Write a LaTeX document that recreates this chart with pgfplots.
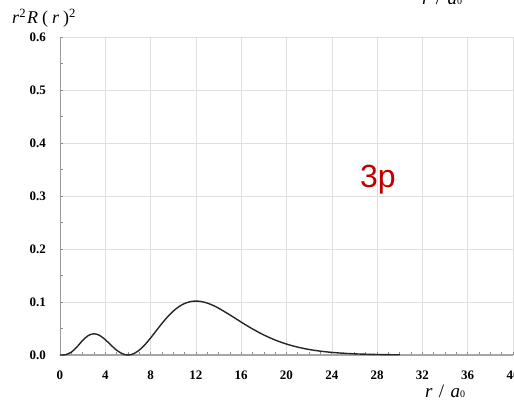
\documentclass[border=0pt]{standalone}
\usepackage{fontspec}
\setmainfont{Liberation Serif}
\newfontfamily\arial{Liberation Sans}
\usepackage{pgfplots}
\pgfplotsset{compat=1.18}
\definecolor{axred}{HTML}{C00000}
\begin{document}
\begin{tikzpicture}[x=1pt,y=1pt]
\begin{axis}[
  at={(0,0)}, anchor=south west,
  scale only axis, width=453pt, height=318pt,
  xmin=0, xmax=40, ymin=0, ymax=0.6,
  xtick={0,4,...,40}, ytick={0,0.1,...,0.6},
  minor x tick num=3, minor y tick num=1,
  axis x line*=bottom, axis y line*=left,
  x axis line style={draw=gray!70, line width=1.3pt, -},
  y axis line style={draw=gray!80, line width=0.8pt, -},
  tick align=inside,
  major tick length=3pt, minor tick length=3pt,
  tick style={draw=gray!90, line width=0.7pt},
  grid=major,
  major grid style={draw=gray!25, line width=0.6pt},
  /pgf/number format/assume math mode=true,
  tick label style={font=\fontsize{13}{15}\selectfont\bfseries, inner sep=0pt},
  yticklabel style={/pgf/number format/fixed, /pgf/number format/precision=1, /pgf/number format/fixed zerofill, xshift=-14pt},
  xticklabel style={yshift=-16pt},
  clip=false,
]
\addplot[smooth, draw=black!85, line width=1.4pt] coordinates {
(0,0) (0.25,0.0000444) (0.5,0.000551) (1,0.005217) (1.5,0.015328) (2,0.027427)
(2.5,0.036734) (3,0.040099) (3.5,0.036966) (4,0.028919) (4.5,0.018670)
(5,0.009062) (5.5,0.002377) (5.75,0.000601) (6,0) (6.25,0.000601) (6.5,0.002380)
(7,0.009177) (7.5,0.019496) (8,0.032150) (8.5,0.045871) (9,0.059491)
(9.5,0.072027) (10,0.082759) (10.5,0.091227) (11,0.097204) (11.5,0.100675)
(12,0.101782) (12.5,0.100774) (13,0.097967) (13.5,0.093715) (14,0.088365)
(15,0.075667) (16,0.062088) (17,0.049156) (18,0.037750) (19,0.028238)
(20,0.020644) (21,0.014789) (22,0.010406) (23,0.007205) (24,0.004917)
(25,0.003312) (26,0.002204) (27,0.001451) (28,0.000945) (29,0.000611)
(30,0.000391)
};
\end{axis}
\node[anchor=base west, inner sep=0pt, font=\fontsize{18}{20}\selectfont] at (-48,331)
  {\textit{r}\textsuperscript{2}\kern1pt\textit{R}\kern4pt(\kern4pt\textit{r}\kern4pt)\textsuperscript{2}};
\node[anchor=base west, inner sep=0pt, font=\fontsize{19}{21}\selectfont] at (365,-43)
  {\textit{r}\,\,/\,\,\textit{a}{\fontsize{10}{11}\selectfont 0}};
\node[anchor=base west, inner sep=0pt, font=\fontsize{19}{21}\selectfont] at (362,350)
  {\textit{r}\,\,/\,\,\textit{a}{\fontsize{10}{11}\selectfont 0}};
\node[anchor=base west, inner sep=0pt, text=axred, font=\arial\fontsize{32}{36}\selectfont] at (300,167) {3p};
\pgfresetboundingbox
\path[use as bounding box] (-60,-49) rectangle (454,355);
\end{tikzpicture}
\end{document}
